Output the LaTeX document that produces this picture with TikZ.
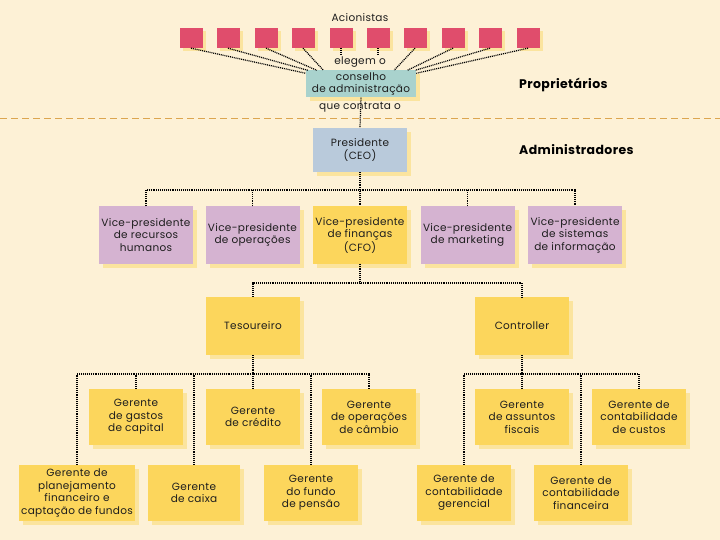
\documentclass[tikz,border=0pt]{standalone}
\usepackage{fontspec}
\setmainfont{Poppins}[LetterSpace=3]
\usetikzlibrary{shadows, calc}
\definecolor{fundo}{HTML}{FDF1D6}
\definecolor{amarelo}{HTML}{FCD65C}
\definecolor{sombra}{HTML}{FBE49E}
\definecolor{rosa}{HTML}{E04D6C}
\definecolor{verdeagua}{HTML}{A9D2CD}
\definecolor{azulceo}{HTML}{B9CADB}
\definecolor{lilas}{HTML}{D5B3D1}
\definecolor{tracejado}{HTML}{DCA650}
\definecolor{tinta}{HTML}{1E1E1E}
\tikzset{
  caixa/.style={rectangle, minimum width=94pt, minimum height=57pt, inner sep=2pt,
                text centered, fill=amarelo, text=tinta, align=center,
                font=\fontsize{10.5}{12.5}\selectfont,
                drop shadow={fill=sombra, opacity=1, shadow xshift=4pt, shadow yshift=-4pt}},
  caixavp/.style={caixa, fill=lilas},
  acao/.style={rectangle, minimum width=23pt, minimum height=20pt, fill=rosa,
               drop shadow={fill=sombra, opacity=1, shadow xshift=3pt, shadow yshift=-3pt}},
  texto/.style={font=\fontsize{10.5}{12.5}\selectfont, text=tinta, inner sep=1pt},
  rotulo/.style={font=\fontsize{12.5}{15}\selectfont\bfseries, text=black, anchor=west, inner sep=0pt},
  liga/.style={line width=1.25pt, dash pattern=on 1pt off 0.9pt, color=black},
  separador/.style={line width=1pt, dash pattern=on 7pt off 4pt, color=tracejado}
}
\begin{document}
\begin{tikzpicture}[x=1pt, y=-1pt]
  \fill [fundo] (0,0) rectangle (720,540);
  \useasboundingbox (0,0) rectangle (720,540);
  % Proprietarios: acionistas e conselho
  \node (acion) [texto] at (360,18) {Acionistas};
  \node (a1) [acao] at (191,38) {}; \node (a2) [acao] at (228,38) {};
  \node (a3) [acao] at (266,38) {}; \node (a4) [acao] at (303,38) {};
  \node (a5) [acao] at (341,38) {}; \node (a6) [acao] at (378,38) {};
  \node (a7) [acao] at (415,38) {}; \node (a8) [acao] at (453,38) {};
  \node (a9) [acao] at (490,38) {}; \node (a10) [acao] at (528,38) {};
  \node (elegem) [texto] at (360,62) {elegem o};
  \node (cons) [caixa, fill=verdeagua, minimum width=110pt, minimum height=26pt] at (361,84) {conselho\\ de administração};
  \node (contrata) [texto] at (360,107) {que contrata o};
  \draw [liga] (a1.south) -- ($(cons.north west)+(0,3)$);
  \draw [liga] (a2.south) -- ($(cons.north west)+(2,0)$);
  \draw [liga] (a3.south) -- ($(cons.north west)!0.1!(cons.north east)$);
  \draw [liga] (a4.south) -- ($(cons.north west)!0.16!(cons.north east)$);
  \draw [liga] (a5.south) -- (a5.south |- elegem.north);
  \draw [liga] (a6.south) -- (a6.south |- elegem.north);
  \draw [liga] (a7.south) -- ($(cons.north west)!0.8!(cons.north east)$);
  \draw [liga] (a8.south) -- ($(cons.north west)!0.92!(cons.north east)$);
  \draw [liga] (a9.south) -- ($(cons.north east)+(-1,0)$);
  \draw [liga] (a10.south) -- ($(cons.north east)+(0,3)$);
  \node [rotulo] at (519,85) {Proprietários};
  \draw [separador] (0,119) -- (720,119);
  % Administradores: presidente e vice-presidentes
  \node (ceo) [caixa, fill=azulceo, minimum height=44pt] at (360,150) {Presidente\\ (CEO)};
  \node [rotulo] at (519,150) {Administradores};
  \draw [liga] (cons.south) -- (ceo.north);
  \node (vp1) [caixavp] at (146,235) {Vice-presidente\\ de recursos\\ humanos};
  \node (vp2) [caixavp] at (252.5,235) {Vice-presidente\\ de operações};
  \node (vp3) [caixa] at (360,235) {Vice-presidente\\ de finanças\\ (CFO)};
  \node (vp4) [caixavp] at (467.5,235) {Vice-presidente\\ de marketing};
  \node (vp5) [caixavp] at (575,235) {Vice-presidente\\ de sistemas\\ de informação};
  \coordinate (barra1) at (360,190);
  \draw [liga] (ceo.south) -- (vp3.north);
  \draw [liga] (vp1.north) |- (barra1) -| (vp5.north);
  \draw [liga] (vp2.north) -- (vp2.north |- barra1); \draw [liga] (vp4.north) -- (vp4.north |- barra1);
  % Tesoureiro e controller
  \node (tes) [caixa, minimum height=58pt] at (253,326) {Tesoureiro};
  \node (ctrl) [caixa, minimum height=58pt] at (522,326) {Controller};
  \coordinate (barra2) at (360,283);
  \draw [liga] (vp3.south) -- (barra2);
  \draw [liga] (tes.north) |- (barra2) -| (ctrl.north);
  % Gerentes do tesoureiro
  \node (gastos) [caixa, minimum height=56pt] at (136,417) {Gerente\\ de gastos\\ de capital};
  \node (cred) [caixa, minimum height=56pt] at (253,417) {Gerente\\ de crédito};
  \node (cambio) [caixa, minimum height=56pt] at (369,417) {Gerente\\ de operações\\ de câmbio};
  \node (planej) [caixa, minimum width=107pt, minimum height=56pt] at (77,493) {Gerente de\\ planejamento\\ financeiro e\\ captação de fundos};
  \node (caixa) [caixa, minimum width=92pt, minimum height=56pt] at (194,493) {Gerente\\ de caixa};
  \node (fundo) [caixa, minimum height=56pt] at (311,493) {Gerente\\ do fundo\\ de pensão};
  \coordinate (barra3) at (253,374);
  \draw [liga] (tes.south) -- (cred.north);
  \draw [liga] (planej.north) |- (barra3) -| (cambio.north);
  \draw [liga] (gastos.north) -- (gastos.north |- barra3); \draw [liga] (caixa.north) -- (caixa.north |- barra3);
  \draw [liga] (fundo.north) -- (fundo.north |- barra3);
  % Gerentes do controller
  \node (fisc) [caixa, minimum height=56pt] at (522,417) {Gerente\\ de assuntos\\ fiscais};
  \node (custos) [caixa, minimum height=56pt] at (639,417) {Gerente de\\ contabilidade\\ de custos};
  \node (geren) [caixa, minimum height=56pt] at (464,493) {Gerente de\\ contabilidade\\ gerencial};
  \node (finan) [caixa, minimum height=56pt] at (581,493) {Gerente de\\ contabilidade\\ financeira};
  \coordinate (barra4) at (522,374);
  \draw [liga] (ctrl.south) -- (fisc.north);
  \draw [liga] (geren.north) |- (barra4) -| (custos.north);
  \draw [liga] (finan.north) -- (finan.north |- barra4);
\end{tikzpicture}
\end{document}
